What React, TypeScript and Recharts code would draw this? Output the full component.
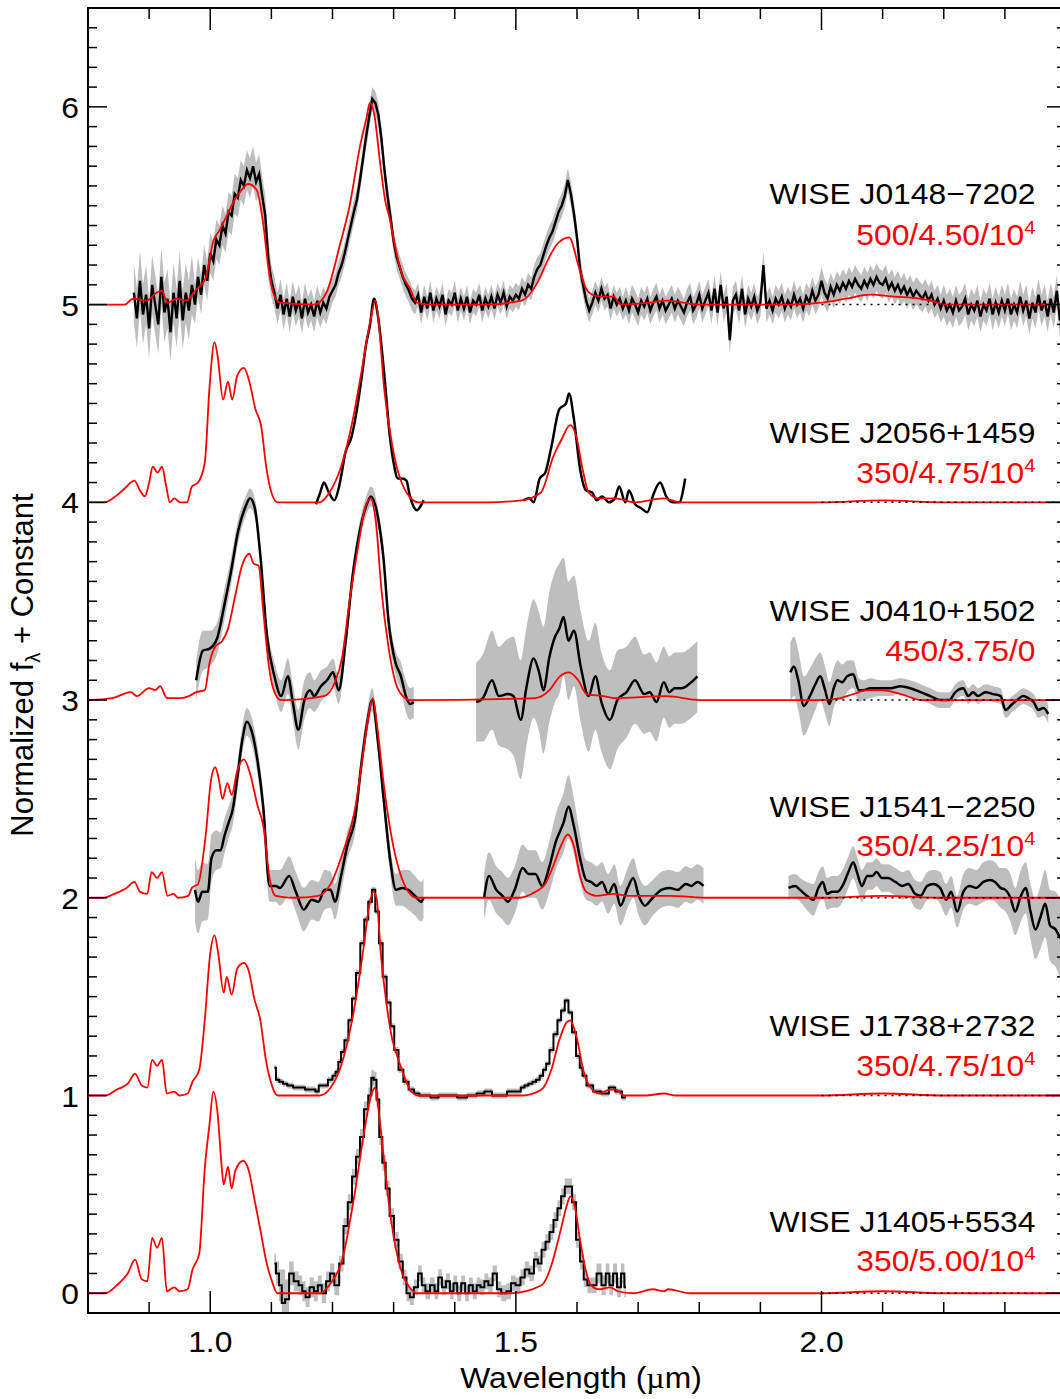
import React from 'react';
import { ComposedChart, Line, Area, Scatter, XAxis, YAxis, ReferenceArea } from 'recharts';

const FONT = '"Liberation Sans", Arial, Helvetica, sans-serif';
const RED = '#ff0000';
const GREY = '#bebebe';

// chart is pinned to the page's top-left corner, plot box in page pixels
const CHART_W = 1070;
const CHART_H = 1399;
const PLOT_LEFT = 88;
const PLOT_TOP = 8;
const PLOT_RIGHT = 1066;
const PLOT_BOTTOM = 1313;

const X_DOMAIN: [number, number] = [0.8, 2.4];
const Y_DOMAIN: [number, number] = [-0.1, 6.5];
const X_TICKS = [0.9, 1.0, 1.1, 1.2, 1.3, 1.4, 1.5, 1.6, 1.7, 1.8, 1.9, 2.0, 2.1, 2.2, 2.3];
const X_LABELS = [1.0, 1.5, 2.0];
const Y_LABELS = [0, 1, 2, 3, 4, 5, 6];
const Y_TICKS = Array.from({ length: 65 }, (_, i) => i / 10);

// object names / model labels (Teff / log g / Kzz)
const NAMES = ['WISE J0148\u22127202', 'WISE J2056+1459', 'WISE J0410+1502', 'WISE J1541\u22122250', 'WISE J1738+2732', 'WISE J1405+5534'];
const MODELS = ['500/4.50/10', '350/4.75/10', '450/3.75/0', '350/4.25/10', '350/4.75/10', '350/5.00/10'];
const MODEL_SUP = ['4', '4', '', '4', '4', '4'];
const NAME_Y = [5.51, 4.3, 3.4, 2.41, 1.3, 0.31];
const MODEL_Y = [5.3, 4.1, 3.2, 2.21, 1.1, 0.11];
const LABEL_X = 2.35;
const BASELINES = [5, 4, 3, 2, 1, 0];
const DOTTED_FROM = 2.0;

// WISE J0148-7202: evenly sampled, 0.875 um in steps of 0.005 um
const J0148_START = 0.875;
const J0148_STEP = 0.005;
const J0148_FLUX = [
  5.06, 4.93, 5.12, 4.95, 5.05, 4.88, 5.10, 5.00, 4.90, 5.14, 4.96, 5.03, 4.86, 5.06, 4.93, 5.12, 4.92, 5.06, 4.97, 5.10,
  5.00, 5.14, 5.05, 5.20, 5.12, 5.26, 5.22, 5.33, 5.30, 5.40, 5.36, 5.47, 5.45, 5.56, 5.54, 5.63, 5.60, 5.68, 5.64, 5.70,
  5.62, 5.66, 5.55, 5.45, 5.23, 5.12, 5.06, 4.98, 5.05, 4.95, 5.03, 4.94, 5.04, 4.97, 5.02, 4.93, 5.03, 4.96, 5.00, 4.94,
  5.02, 4.96, 5.01, 4.98, 5.04, 5.07, 5.10, 5.16, 5.20, 5.26, 5.33, 5.40, 5.47, 5.53, 5.63, 5.74, 5.85, 5.95, 6.04, 6.02,
  5.96, 5.84, 5.68, 5.55, 5.44, 5.32, 5.24, 5.19, 5.14, 5.10, 5.07, 5.03, 5.01, 5.05, 4.96, 5.04, 4.98, 5.06, 4.97, 5.03,
  4.99, 5.05, 4.95, 5.02, 5.00, 5.06, 4.97, 5.03, 4.98, 5.04, 4.96, 5.02, 5.00, 5.05, 4.97, 5.03, 4.99, 5.04, 4.98, 5.05,
  5.01, 5.06, 4.99, 5.04, 5.02, 5.05, 5.03, 5.08, 5.05, 5.10, 5.08, 5.14, 5.18, 5.20, 5.25, 5.30, 5.34, 5.37, 5.42, 5.47,
  5.50, 5.55, 5.63, 5.56, 5.46, 5.34, 5.18, 5.10, 5.02, 4.97, 5.01, 5.06, 5.02, 5.08, 5.03, 5.05, 4.98, 5.04, 5.00, 5.03,
  4.98, 5.02, 4.97, 5.03, 5.00, 4.96, 5.02, 4.99, 5.03, 4.97, 5.01, 5.04, 4.98, 5.02, 4.97, 5.00, 5.03, 4.98, 5.02, 4.99,
  4.96, 5.01, 5.04, 4.97, 5.00, 5.05, 4.98, 5.02, 5.06, 4.97, 5.08, 4.96, 5.10, 4.98, 5.04, 4.82, 5.02, 5.05, 4.97, 5.08,
  4.95, 5.03, 4.99, 5.04, 4.97, 5.01, 5.20, 4.98, 5.02, 4.97, 5.03, 5.00, 5.04, 4.98, 5.02, 4.99, 5.05, 5.00, 5.03, 4.98,
  5.04, 5.01, 5.07, 5.02, 5.05, 5.12, 5.06, 5.03, 5.09, 5.05, 5.10, 5.07, 5.11, 5.08, 5.12, 5.09, 5.13, 5.10, 5.08, 5.12,
  5.09, 5.13, 5.10, 5.14, 5.11, 5.10, 5.13, 5.08, 5.11, 5.07, 5.10, 5.06, 5.09, 5.05, 5.08, 5.04, 5.07, 5.05, 5.03, 5.06,
  5.02, 5.05, 5.00, 5.03, 4.98, 5.02, 4.97, 5.00, 4.96, 5.02, 4.97, 4.99, 5.03, 4.95, 5.00, 4.97, 5.02, 4.94, 5.00, 4.97,
  5.03, 4.95, 5.01, 4.96, 5.02, 4.97, 5.03, 4.95, 5.00, 4.96, 5.04, 4.97, 5.02, 4.93, 5.01, 4.96, 5.05, 4.97, 5.02, 4.94,
  5.03, 4.96, 5.07, 4.92, 5.04, 4.98,
];
// [from wavelength, 1-sigma error]
const J0148_ERR = [[0.875, 0.15], [0.975, 0.1], [1.1, 0.08], [1.2, 0.06], [1.34, 0.06], [1.68, 0.07], [2.2, 0.08]];

const J0148_MODEL = [
  [0.8, 5.0], [0.86, 5.0], [0.874, 5.03], [0.896, 5.02], [0.912, 5.06], [0.921, 5.07], [0.93, 5.01], [0.945, 5.03],
  [0.961, 5.02], [0.975, 5.07], [0.992, 5.13], [1.005, 5.32], [1.016, 5.38], [1.027, 5.45], [1.04, 5.53], [1.049, 5.57],
  [1.062, 5.61], [1.076, 5.58], [1.087, 5.4], [1.095, 5.19], [1.103, 5.06], [1.114, 5.01], [1.17, 5.0], [1.19, 5.06],
  [1.212, 5.3], [1.228, 5.5], [1.245, 5.8], [1.256, 5.95], [1.261, 6.02], [1.269, 5.95], [1.277, 5.74], [1.286, 5.53],
  [1.294, 5.43], [1.302, 5.3], [1.313, 5.16], [1.327, 5.08], [1.338, 5.01], [1.36, 5.0], [1.45, 5.0], [1.509, 5.02],
  [1.535, 5.11], [1.553, 5.23], [1.566, 5.3], [1.587, 5.34], [1.603, 5.19], [1.615, 5.08], [1.625, 5.05], [1.64, 5.04],
  [1.66, 5.04], [1.672, 5.0], [1.72, 5.01], [1.747, 5.02], [1.8, 5.0], [1.95, 5.0], [2.0, 5.01], [2.04, 5.03],
  [2.08, 5.05], [2.12, 5.04], [2.16, 5.03], [2.19, 5.01], [2.2, 5.0], [2.4, 5.0],
];

// WISE J2056+1459
const J2056_J = [
  [1.173, 3.99], [1.18, 4.05], [1.186, 4.1], [1.194, 4.05], [1.203, 4.01], [1.21, 4.07], [1.214, 4.13], [1.221, 4.25],
  [1.231, 4.33], [1.24, 4.47], [1.248, 4.64], [1.255, 4.8], [1.261, 4.89], [1.268, 5.03], [1.274, 4.95], [1.284, 4.67],
  [1.294, 4.33], [1.3, 4.2], [1.307, 4.12], [1.314, 4.12], [1.321, 4.11], [1.326, 4.04], [1.331, 3.99], [1.338, 3.96],
  [1.344, 3.98], [1.349, 4.01],
];
const J2056_H = [
  [1.512, 4.01], [1.522, 4.02], [1.529, 4.0], [1.539, 4.12], [1.548, 4.15], [1.558, 4.28], [1.571, 4.47], [1.582, 4.5],
  [1.587, 4.55], [1.595, 4.42], [1.605, 4.17], [1.615, 4.06], [1.625, 4.05], [1.632, 4.01], [1.641, 4.03], [1.652, 4.0],
  [1.662, 4.02], [1.669, 4.08], [1.679, 4.0], [1.685, 4.06], [1.695, 3.99], [1.705, 3.97], [1.715, 3.95], [1.725, 4.04],
  [1.736, 4.1], [1.746, 4.03], [1.756, 4.0], [1.767, 4.0], [1.777, 4.12],
];
const J2056_MODEL = [
  [0.8, 4.0], [0.827, 4.0], [0.845, 4.03], [0.86, 4.07], [0.876, 4.11], [0.885, 4.06], [0.893, 4.03], [0.9, 4.1],
  [0.906, 4.18], [0.914, 4.15], [0.921, 4.18], [0.928, 4.08], [0.934, 4.0], [0.941, 4.02], [0.951, 4.0], [0.962, 4.0],
  [0.97, 4.08], [0.98, 4.1], [0.991, 4.2], [0.999, 4.59], [1.007, 4.81], [1.012, 4.74], [1.021, 4.52], [1.029, 4.61],
  [1.036, 4.52], [1.044, 4.64], [1.055, 4.68], [1.064, 4.61], [1.074, 4.47], [1.083, 4.39], [1.092, 4.17], [1.1, 4.05],
  [1.11, 4.0], [1.178, 4.0], [1.195, 4.05], [1.214, 4.18], [1.232, 4.4], [1.248, 4.67], [1.262, 4.92], [1.27, 5.02],
  [1.276, 4.9], [1.284, 4.59], [1.3, 4.25], [1.321, 4.05], [1.341, 4.0], [1.454, 4.0], [1.509, 4.01], [1.541, 4.05],
  [1.561, 4.23], [1.575, 4.32], [1.589, 4.39], [1.599, 4.33], [1.609, 4.17], [1.619, 4.05], [1.635, 4.02], [1.662, 4.02],
  [1.695, 4.0], [1.742, 4.02], [1.769, 4.0], [2.0, 4.0], [2.1, 4.01], [2.2, 4.0], [2.4, 4.0],
];

// WISE J0410+1502: [wavelength, flux, error]
const J0410_J = [
  [0.977, 3.1, 0.1], [0.988, 3.25, 0.1], [0.999, 3.26, 0.09], [1.011, 3.31, 0.08], [1.023, 3.48, 0.08], [1.034, 3.65, 0.07],
  [1.046, 3.86, 0.06], [1.058, 3.98, 0.05], [1.065, 4.02, 0.05], [1.073, 3.97, 0.05], [1.082, 3.73, 0.05], [1.093, 3.32, 0.06],
  [1.105, 3.12, 0.07], [1.116, 3.02, 0.08], [1.127, 3.12, 0.09], [1.135, 2.99, 0.09], [1.144, 2.85, 0.1], [1.154, 3.0, 0.1],
  [1.163, 3.05, 0.09], [1.17, 3.02, 0.08], [1.181, 3.07, 0.08], [1.191, 3.1, 0.07], [1.201, 3.14, 0.07], [1.21, 3.05, 0.07],
  [1.222, 3.31, 0.06], [1.233, 3.63, 0.05], [1.245, 3.86, 0.05], [1.255, 3.98, 0.05], [1.263, 4.03, 0.05], [1.274, 3.93, 0.05],
  [1.283, 3.73, 0.05], [1.292, 3.39, 0.06], [1.303, 3.19, 0.06], [1.312, 3.12, 0.07], [1.32, 3.02, 0.08], [1.327, 2.98, 0.08],
  [1.333, 2.99, 0.08],
];
const J0410_H = [
  [1.435, 2.99, 0.2], [1.446, 3.01, 0.22], [1.461, 3.1, 0.25], [1.472, 3.02, 0.25], [1.487, 3.03, 0.28], [1.496, 3.02, 0.3],
  [1.508, 2.9, 0.3], [1.517, 3.06, 0.3], [1.529, 3.21, 0.3], [1.538, 3.14, 0.3], [1.545, 3.05, 0.32], [1.555, 3.22, 0.33],
  [1.564, 3.32, 0.33], [1.571, 3.36, 0.33], [1.578, 3.42, 0.3], [1.586, 3.3, 0.3], [1.595, 3.35, 0.28], [1.606, 3.17, 0.28],
  [1.619, 3.02, 0.28], [1.63, 3.12, 0.27], [1.64, 2.99, 0.25], [1.654, 2.9, 0.25], [1.666, 3.0, 0.25], [1.681, 3.04, 0.23],
  [1.695, 3.1, 0.22], [1.71, 3.03, 0.2], [1.719, 3.04, 0.2], [1.73, 2.99, 0.2], [1.742, 3.09, 0.18], [1.751, 3.04, 0.18],
  [1.76, 3.06, 0.18], [1.771, 3.06, 0.18], [1.783, 3.08, 0.18], [1.797, 3.12, 0.18],
];
const J0410_K = [
  [1.949, 3.14, 0.15], [1.955, 3.17, 0.15], [1.962, 3.1, 0.15], [1.971, 2.97, 0.15], [1.981, 3.02, 0.14], [1.99, 3.08, 0.13],
  [1.998, 3.12, 0.12], [2.005, 3.06, 0.12], [2.013, 2.98, 0.11], [2.02, 3.06, 0.1], [2.026, 3.1, 0.1], [2.034, 3.09, 0.09],
  [2.042, 3.12, 0.08], [2.052, 3.13, 0.07], [2.061, 3.05, 0.06], [2.069, 3.05, 0.05], [2.08, 3.06, 0.05], [2.096, 3.06, 0.04],
  [2.113, 3.06, 0.04], [2.129, 3.07, 0.04], [2.145, 3.06, 0.04], [2.162, 3.04, 0.04], [2.178, 3.02, 0.04], [2.194, 3.0, 0.04],
  [2.209, 3.0, 0.04], [2.219, 3.04, 0.04], [2.232, 3.06, 0.04], [2.24, 3.02, 0.04], [2.248, 3.04, 0.04], [2.256, 3.02, 0.04],
  [2.268, 3.04, 0.04], [2.281, 3.03, 0.04], [2.293, 3.02, 0.04], [2.301, 2.95, 0.04], [2.312, 2.98, 0.04], [2.32, 3.0, 0.04],
  [2.33, 3.02, 0.04], [2.338, 3.01, 0.04], [2.347, 2.99, 0.04], [2.355, 2.95, 0.04], [2.363, 2.96, 0.04], [2.371, 2.93, 0.05],
];
const J0410_MODEL = [
  [0.8, 3.0], [0.84, 3.01], [0.87, 3.04], [0.88, 3.02], [0.9, 3.06], [0.91, 3.05], [0.918, 3.07], [0.929, 3.01],
  [0.952, 3.01], [0.965, 3.02], [0.977, 3.04], [0.991, 3.05], [0.999, 3.19], [1.008, 3.27], [1.02, 3.3], [1.029, 3.36],
  [1.041, 3.53], [1.052, 3.68], [1.064, 3.74], [1.071, 3.69], [1.079, 3.68], [1.087, 3.44], [1.096, 3.17], [1.105, 3.04],
  [1.116, 3.0], [1.186, 3.02], [1.204, 3.09], [1.216, 3.22], [1.227, 3.48], [1.242, 3.78], [1.253, 3.97], [1.262, 4.02],
  [1.271, 3.9], [1.28, 3.56], [1.292, 3.26], [1.303, 3.09], [1.315, 3.02], [1.327, 3.0], [1.532, 3.01], [1.555, 3.05],
  [1.572, 3.12], [1.587, 3.14], [1.602, 3.1], [1.616, 3.03], [1.643, 3.02], [1.66, 3.01], [1.747, 3.02], [1.8, 3.0],
  [2.0, 3.0], [2.031, 3.01], [2.052, 3.03], [2.075, 3.05], [2.096, 3.05], [2.118, 3.04], [2.14, 3.02], [2.162, 3.0], [2.4, 3.0],
];

// WISE J1541-2250: [wavelength, flux, error]
const J1541_J = [
  [0.975, 2.04, 0.16], [0.98, 1.98, 0.16], [0.987, 2.03, 0.15], [0.996, 2.03, 0.14], [1.002, 2.2, 0.12], [1.01, 2.24, 0.1],
  [1.017, 2.24, 0.09], [1.023, 2.31, 0.09], [1.03, 2.38, 0.08], [1.037, 2.45, 0.08], [1.044, 2.6, 0.07], [1.052, 2.79, 0.07],
  [1.06, 2.89, 0.07], [1.068, 2.84, 0.07], [1.077, 2.7, 0.07], [1.087, 2.45, 0.07], [1.097, 2.06, 0.08], [1.107, 2.06, 0.08],
  [1.114, 2.05, 0.09], [1.129, 2.11, 0.1], [1.14, 2.03, 0.1], [1.153, 1.94, 0.11], [1.166, 1.99, 0.1], [1.177, 1.98, 0.1],
  [1.187, 2.04, 0.1], [1.197, 2.04, 0.09], [1.204, 1.98, 0.09], [1.214, 2.11, 0.08], [1.224, 2.26, 0.07], [1.237, 2.4, 0.07],
  [1.247, 2.67, 0.06], [1.257, 2.89, 0.06], [1.265, 3.0, 0.06], [1.274, 2.8, 0.06], [1.284, 2.49, 0.06], [1.294, 2.2, 0.07],
  [1.304, 2.04, 0.08], [1.314, 2.05, 0.09], [1.324, 2.04, 0.1], [1.335, 2.01, 0.1], [1.345, 1.98, 0.1], [1.349, 2.0, 0.1],
];
const J1541_H = [
  [1.448, 2.0, 0.12], [1.456, 2.11, 0.12], [1.468, 2.04, 0.12], [1.478, 2.01, 0.12], [1.487, 1.98, 0.12], [1.498, 2.04, 0.12],
  [1.511, 2.15, 0.12], [1.521, 2.12, 0.12], [1.532, 2.12, 0.12], [1.543, 2.06, 0.12], [1.555, 2.16, 0.13], [1.565, 2.28, 0.14],
  [1.578, 2.38, 0.15], [1.586, 2.46, 0.16], [1.595, 2.36, 0.14], [1.605, 2.2, 0.12], [1.615, 2.09, 0.1], [1.623, 2.08, 0.1],
  [1.632, 2.06, 0.1], [1.641, 2.08, 0.1], [1.651, 2.02, 0.1], [1.661, 2.07, 0.1], [1.671, 1.96, 0.1], [1.683, 2.05, 0.1],
  [1.692, 2.1, 0.1], [1.701, 2.01, 0.1], [1.711, 1.96, 0.1], [1.724, 2.0, 0.09], [1.738, 2.04, 0.09], [1.751, 2.05, 0.09],
  [1.765, 2.04, 0.09], [1.778, 2.07, 0.09], [1.787, 2.06, 0.09], [1.797, 2.08, 0.09], [1.807, 2.06, 0.09],
];
const J1541_K = [
  [1.946, 2.05, 0.06], [1.957, 2.06, 0.06], [1.965, 2.04, 0.06], [1.976, 2.01, 0.07], [1.987, 1.99, 0.08], [1.995, 2.05, 0.08],
  [2.002, 2.08, 0.08], [2.009, 2.02, 0.08], [2.017, 2.03, 0.08], [2.026, 2.03, 0.08], [2.036, 2.07, 0.08], [2.044, 2.13, 0.08],
  [2.052, 2.18, 0.08], [2.058, 2.13, 0.08], [2.066, 2.06, 0.08], [2.075, 2.11, 0.07], [2.083, 2.11, 0.07], [2.09, 2.13, 0.07],
  [2.099, 2.1, 0.07], [2.109, 2.1, 0.07], [2.121, 2.08, 0.07], [2.132, 2.06, 0.07], [2.142, 2.07, 0.07], [2.153, 2.02, 0.07],
  [2.162, 2.01, 0.07], [2.173, 2.06, 0.07], [2.183, 2.07, 0.07], [2.194, 2.05, 0.08], [2.204, 1.99, 0.08], [2.212, 2.03, 0.08],
  [2.222, 1.93, 0.08], [2.232, 2.03, 0.09], [2.242, 2.06, 0.09], [2.253, 2.05, 0.09], [2.265, 2.08, 0.1], [2.276, 2.09, 0.1],
  [2.284, 2.08, 0.1], [2.293, 2.05, 0.1], [2.301, 2.04, 0.11], [2.309, 2.0, 0.12], [2.317, 1.93, 0.12], [2.325, 2.0, 0.13],
  [2.334, 2.05, 0.13], [2.342, 1.93, 0.14], [2.35, 1.84, 0.15], [2.358, 1.9, 0.16], [2.366, 1.97, 0.17], [2.374, 1.86, 0.18],
  [2.383, 1.84, 0.19], [2.39, 1.8, 0.2], [2.4, 1.78, 0.2],
];
const J1541_MODEL = [
  [0.8, 2.0], [0.826, 2.0], [0.843, 2.02], [0.863, 2.05], [0.876, 2.08], [0.885, 2.03], [0.897, 2.02], [0.904, 2.13],
  [0.913, 2.1], [0.921, 2.13], [0.93, 2.01], [0.94, 2.02], [0.947, 2.0], [0.964, 2.01], [0.97, 2.05], [0.98, 2.07],
  [0.993, 2.33], [1.001, 2.59], [1.008, 2.66], [1.014, 2.6], [1.02, 2.5], [1.028, 2.58], [1.035, 2.52], [1.044, 2.64],
  [1.055, 2.7], [1.065, 2.63], [1.077, 2.47], [1.087, 2.36], [1.097, 2.1], [1.107, 2.01], [1.137, 2.0], [1.177, 2.01],
  [1.197, 2.07], [1.217, 2.23], [1.237, 2.45], [1.251, 2.75], [1.261, 2.96], [1.266, 3.01], [1.273, 2.87], [1.284, 2.57],
  [1.297, 2.3], [1.31, 2.13], [1.324, 2.03], [1.337, 2.0], [1.505, 2.0], [1.532, 2.03], [1.548, 2.07], [1.561, 2.16],
  [1.572, 2.25], [1.585, 2.32], [1.595, 2.26], [1.605, 2.11], [1.615, 2.03], [1.632, 2.01], [1.659, 2.02], [1.685, 2.01],
  [1.752, 2.01], [1.818, 2.0], [2.0, 2.0], [2.1, 2.01], [2.2, 2.0], [2.4, 2.0],
];

// WISE J1738+2732
const J1738_SPEC = [
  [1.105, 1.14], [1.11, 1.08], [1.116, 1.07], [1.122, 1.06], [1.13, 1.05], [1.141, 1.04], [1.15, 1.04], [1.16, 1.03],
  [1.168, 1.03], [1.176, 1.02], [1.179, 1.05], [1.188, 1.05], [1.197, 1.08], [1.203, 1.1], [1.207, 1.12], [1.212, 1.17],
  [1.216, 1.22], [1.223, 1.28], [1.229, 1.38], [1.235, 1.49], [1.242, 1.62], [1.249, 1.77], [1.255, 1.89], [1.262, 1.98],
  [1.267, 2.04], [1.273, 1.93], [1.279, 1.77], [1.285, 1.6], [1.292, 1.47], [1.298, 1.35], [1.304, 1.23], [1.312, 1.13],
  [1.32, 1.07], [1.329, 1.03], [1.338, 1.01], [1.346, 1.0], [1.354, 1.0], [1.367, 0.99], [1.38, 1.0], [1.398, 1.0],
  [1.41, 0.99], [1.43, 1.0], [1.442, 1.01], [1.455, 1.02], [1.467, 1.0], [1.479, 1.0], [1.492, 1.02], [1.505, 1.02],
  [1.511, 1.04], [1.517, 1.05], [1.524, 1.06], [1.53, 1.07], [1.536, 1.08], [1.542, 1.1], [1.547, 1.13], [1.552, 1.16],
  [1.558, 1.23], [1.565, 1.31], [1.571, 1.38], [1.577, 1.43], [1.583, 1.48], [1.589, 1.42], [1.595, 1.32], [1.602, 1.2],
  [1.607, 1.14], [1.611, 1.1], [1.62, 1.05], [1.633, 1.02], [1.646, 1.01], [1.658, 1.04], [1.667, 1.02], [1.68, 0.99],
];
const J1738_MODEL = [
  [0.8, 1.0], [0.828, 1.0], [0.847, 1.03], [0.865, 1.06], [0.877, 1.11], [0.888, 1.05], [0.897, 1.04], [0.905, 1.18],
  [0.913, 1.15], [0.921, 1.18], [0.929, 1.01], [0.941, 1.02], [0.95, 1.0], [0.963, 1.01], [0.971, 1.07], [0.982, 1.13],
  [0.991, 1.38], [1.0, 1.72], [1.007, 1.81], [1.013, 1.72], [1.022, 1.52], [1.027, 1.6], [1.035, 1.51], [1.044, 1.64],
  [1.055, 1.67], [1.063, 1.63], [1.072, 1.49], [1.082, 1.38], [1.091, 1.18], [1.101, 1.05], [1.11, 1.0], [1.179, 1.0],
  [1.197, 1.04], [1.216, 1.17], [1.235, 1.43], [1.251, 1.75], [1.26, 1.96], [1.267, 2.03], [1.272, 2.0], [1.279, 1.72],
  [1.289, 1.45], [1.298, 1.28], [1.308, 1.18], [1.317, 1.1], [1.329, 1.02], [1.342, 1.0], [1.511, 1.0], [1.542, 1.03],
  [1.558, 1.13], [1.571, 1.28], [1.583, 1.37], [1.589, 1.38], [1.599, 1.3], [1.611, 1.12], [1.62, 1.05], [1.636, 1.01],
  [1.654, 1.03], [1.664, 1.03], [1.677, 1.0], [1.711, 1.0], [1.743, 1.01], [1.762, 1.0], [2.0, 1.0], [2.1, 1.01],
  [2.2, 1.0], [2.4, 1.0],
];

// WISE J1405+5534: [wavelength, flux, error]
const J1405_SPEC = [
  [1.105, 0.15, 0.05], [1.11, 0.1, 0.06], [1.115, 0.04, 0.08], [1.119, -0.05, 0.17], [1.126, -0.03, 0.1], [1.132, 0.1, 0.06],
  [1.141, 0.06, 0.05], [1.148, 0.04, 0.05], [1.153, 0.01, 0.05], [1.159, -0.02, 0.05], [1.166, 0.03, 0.05], [1.173, 0.01, 0.05],
  [1.179, 0.04, 0.05], [1.186, 0.0, 0.05], [1.193, 0.06, 0.05], [1.199, 0.1, 0.05], [1.207, 0.04, 0.05], [1.215, 0.15, 0.04],
  [1.221, 0.34, 0.04], [1.229, 0.46, 0.04], [1.235, 0.59, 0.04], [1.242, 0.69, 0.04], [1.248, 0.79, 0.04], [1.255, 0.93, 0.04],
  [1.262, 1.0, 0.04], [1.265, 1.09, 0.04], [1.27, 1.08, 0.04], [1.274, 0.98, 0.04], [1.279, 0.79, 0.04], [1.284, 0.66, 0.04],
  [1.29, 0.53, 0.04], [1.297, 0.39, 0.04], [1.304, 0.27, 0.04], [1.312, 0.16, 0.04], [1.318, 0.08, 0.04], [1.324, 0.0, 0.04],
  [1.329, -0.02, 0.04], [1.337, 0.03, 0.04], [1.343, 0.1, 0.04], [1.349, 0.04, 0.04], [1.355, 0.01, 0.04], [1.364, 0.04, 0.04],
  [1.37, 0.01, 0.04], [1.376, 0.08, 0.04], [1.382, 0.03, 0.04], [1.389, 0.06, 0.04], [1.395, 0.01, 0.04], [1.401, 0.05, 0.04],
  [1.407, 0.0, 0.04], [1.414, 0.05, 0.04], [1.42, 0.0, 0.04], [1.426, 0.04, 0.04], [1.433, 0.01, 0.04], [1.439, 0.04, 0.04],
  [1.445, 0.03, 0.04], [1.452, 0.06, 0.04], [1.458, 0.04, 0.04], [1.466, 0.1, 0.04], [1.472, 0.02, 0.04], [1.48, 0.0, 0.04],
  [1.489, 0.01, 0.04], [1.495, 0.05, 0.04], [1.504, 0.04, 0.04], [1.511, 0.08, 0.04], [1.518, 0.12, 0.04], [1.526, 0.1, 0.04],
  [1.533, 0.17, 0.04], [1.539, 0.15, 0.04], [1.545, 0.22, 0.04], [1.552, 0.26, 0.04], [1.558, 0.31, 0.04], [1.565, 0.37, 0.04],
  [1.571, 0.43, 0.04], [1.577, 0.49, 0.04], [1.583, 0.54, 0.04], [1.589, 0.54, 0.04], [1.595, 0.46, 0.04], [1.602, 0.27, 0.04],
  [1.608, 0.16, 0.04], [1.614, 0.07, 0.04], [1.62, 0.04, 0.04], [1.628, 0.04, 0.04], [1.636, 0.1, 0.05], [1.644, 0.04, 0.05],
  [1.65, 0.1, 0.05], [1.656, 0.04, 0.05], [1.662, 0.1, 0.05], [1.669, 0.03, 0.05], [1.675, 0.1, 0.05], [1.68, 0.03, 0.05],
];
const J1405_MODEL = [
  [0.8, 0.0], [0.828, 0.0], [0.847, 0.04], [0.865, 0.1], [0.877, 0.17], [0.888, 0.07], [0.897, 0.06], [0.905, 0.28],
  [0.913, 0.23], [0.921, 0.28], [0.929, 0.01], [0.941, 0.03], [0.95, 0.01], [0.963, 0.02], [0.971, 0.12], [0.982, 0.2],
  [0.991, 0.63], [0.999, 0.86], [1.005, 1.02], [1.012, 0.91], [1.019, 0.63], [1.022, 0.55], [1.029, 0.64], [1.035, 0.53],
  [1.041, 0.62], [1.054, 0.67], [1.063, 0.62], [1.072, 0.48], [1.082, 0.32], [1.091, 0.17], [1.101, 0.06], [1.11, 0.0],
  [1.179, 0.0], [1.197, 0.05], [1.216, 0.17], [1.235, 0.48], [1.251, 0.8], [1.263, 1.0], [1.27, 1.04], [1.274, 0.96],
  [1.283, 0.71], [1.292, 0.46], [1.301, 0.27], [1.314, 0.1], [1.326, 0.03], [1.338, 0.0], [1.492, 0.0], [1.542, 0.04],
  [1.558, 0.14], [1.571, 0.29], [1.583, 0.44], [1.589, 0.49], [1.597, 0.43], [1.605, 0.27], [1.614, 0.12], [1.623, 0.04],
  [1.636, 0.02], [1.654, 0.03], [1.667, 0.01], [1.693, 0.0], [1.724, 0.02], [1.743, 0.01], [1.749, 0.02], [1.785, 0.0],
  [2.0, 0.0], [2.1, 0.01], [2.2, 0.0], [2.4, 0.0],
];

type Pt = { x: number; y: number; band?: [number, number] };

const pts = (rows: number[][]): Pt[] => rows.map(([x, y]) => ({ x, y }));
const withBand = (rows: number[][], fallbackErr = 0.02): Pt[] =>
  rows.map(([x, y, e]) => {
    const err = e ?? fallbackErr;
    return { x, y, band: [y - err, y + err] };
  });

const j0148Err = (x: number) => {
  let e = J0148_ERR[0][1];
  for (const [from, v] of J0148_ERR) if (x >= from) e = v;
  return e;
};
const J0148_DATA: Pt[] = J0148_FLUX.map((y, i) => {
  const x = +(J0148_START + i * J0148_STEP).toFixed(3);
  const e = j0148Err(x);
  return { x, y, band: [y - e, y + e] };
});

const LABELS = NAMES.flatMap((name, i) => [
  { x: LABEL_X, y: NAME_Y[i], text: name, sup: '', color: '#000' },
  { x: LABEL_X, y: MODEL_Y[i], text: MODELS[i], sup: MODEL_SUP[i], color: RED },
]);

const Txt = ({ x, y, anchor = 'start', size = 30, fill = '#000', children }: any) => (
  <text
    transform={`translate(${x},${y}) scale(1.06,1)`}
    textAnchor={anchor}
    fontSize={size}
    fontFamily={FONT}
    fill={fill}
  >
    {children}
  </text>
);

const XTick = (props: any) => {
  const { x, payload } = props;
  const v = payload.value;
  const major = X_LABELS.some((l) => Math.abs(l - v) < 1e-6);
  const len = major ? 22 : 11;
  return (
    <g>
      <line x1={x} y1={PLOT_BOTTOM} x2={x} y2={PLOT_BOTTOM - len} stroke="#000" strokeWidth={1.5} />
      <line x1={x} y1={PLOT_TOP} x2={x} y2={PLOT_TOP + len} stroke="#000" strokeWidth={1.5} />
      {major && (
        <Txt x={x} y={PLOT_BOTTOM + 39} anchor="middle">
          {v.toFixed(1)}
        </Txt>
      )}
    </g>
  );
};

const YTick = (props: any) => {
  const { y, payload } = props;
  const v = payload.value;
  const major = Y_LABELS.some((l) => Math.abs(l - v) < 1e-6);
  const len = major ? 19 : 9;
  return (
    <g>
      <line x1={PLOT_LEFT} y1={y} x2={PLOT_LEFT + len} y2={y} stroke="#000" strokeWidth={1.5} />
      <line x1={PLOT_RIGHT} y1={y} x2={PLOT_RIGHT - len} y2={y} stroke="#000" strokeWidth={1.5} />
      {major && (
        <Txt x={PLOT_LEFT - 9} y={y + 11} anchor="end">
          {String(Math.round(v))}
        </Txt>
      )}
    </g>
  );
};

const LabelShape = (props: any) => {
  const { cx, cy, payload } = props;
  return (
    <Txt x={cx} y={cy} anchor="end" fill={payload.color}>
      {payload.text}
      {payload.sup ? (
        <tspan dy={-11} fontSize={19}>
          {payload.sup}
        </tspan>
      ) : null}
    </Txt>
  );
};

const bandProps = { type: 'monotone' as const, dataKey: 'band', stroke: 'none', fill: GREY, fillOpacity: 1, isAnimationActive: false, dot: false, activeDot: false };
const blackProps = { dataKey: 'y', stroke: '#000', dot: false, activeDot: false, isAnimationActive: false };
const redProps = { type: 'monotone' as const, dataKey: 'y', stroke: RED, strokeWidth: 1.8, dot: false, activeDot: false, isAnimationActive: false };

const App: React.FC = () => {
  const j0410 = [withBand(J0410_J), withBand(J0410_H), withBand(J0410_K)];
  const j1541 = [withBand(J1541_J), withBand(J1541_H), withBand(J1541_K)];
  const j1405 = withBand(J1405_SPEC);
  const j1738 = withBand(J1738_SPEC, 0.015);
  const dotted = BASELINES.map((b) => [
    { x: DOTTED_FROM, y: b },
    { x: X_DOMAIN[1], y: b },
  ]);

  return (
    <div style={{ position: 'absolute', left: 0, top: 0, width: 1060, height: CHART_H, overflow: 'hidden', background: '#fff' }}>
      <ComposedChart width={CHART_W} height={CHART_H} margin={{ top: PLOT_TOP, right: CHART_W - PLOT_RIGHT, bottom: 0, left: 0 }}>
        <XAxis
          type="number"
          dataKey="x"
          domain={X_DOMAIN}
          allowDataOverflow
          ticks={X_TICKS}
          interval={0}
          tick={XTick}
          tickSize={0}
          tickMargin={0}
          tickLine={false}
          axisLine={false}
          height={CHART_H - PLOT_BOTTOM}
        />
        <YAxis
          type="number"
          dataKey="y"
          domain={Y_DOMAIN}
          allowDataOverflow
          ticks={Y_TICKS}
          interval={0}
          tick={YTick}
          tickSize={0}
          tickMargin={0}
          tickLine={false}
          axisLine={false}
          width={PLOT_LEFT}
        />

        {/* grey error envelopes */}
        <Area {...bandProps} data={J0148_DATA} type="linear" />
        <Area {...bandProps} data={j0410[0]} />
        <Area {...bandProps} data={j0410[1]} />
        <Area {...bandProps} data={j0410[2]} />
        <Area {...bandProps} data={j1541[0]} />
        <Area {...bandProps} data={j1541[1]} />
        <Area {...bandProps} data={j1541[2]} />
        <Area {...bandProps} data={j1738} type="step" />
        <Area {...bandProps} data={j1405} type="step" />

        {/* observed spectra */}
        <Line {...blackProps} data={J0148_DATA} type="linear" strokeWidth={2.4} />
        <Line {...blackProps} data={pts(J2056_J)} type="monotone" strokeWidth={2.5} />
        <Line {...blackProps} data={pts(J2056_H)} type="monotone" strokeWidth={2.5} />
        <Line {...blackProps} data={j0410[0]} type="monotone" strokeWidth={2.5} />
        <Line {...blackProps} data={j0410[1]} type="monotone" strokeWidth={2.5} />
        <Line {...blackProps} data={j0410[2]} type="monotone" strokeWidth={2.5} />
        <Line {...blackProps} data={j1541[0]} type="monotone" strokeWidth={2.5} />
        <Line {...blackProps} data={j1541[1]} type="monotone" strokeWidth={2.5} />
        <Line {...blackProps} data={j1541[2]} type="monotone" strokeWidth={2.5} />
        <Line {...blackProps} data={j1738} type="step" strokeWidth={2} />
        <Line {...blackProps} data={j1405} type="step" strokeWidth={2} />

        {/* model spectra */}
        <Line {...redProps} data={pts(J0148_MODEL)} />
        <Line {...redProps} data={pts(J2056_MODEL)} />
        <Line {...redProps} data={pts(J0410_MODEL)} />
        <Line {...redProps} data={pts(J1541_MODEL)} />
        <Line {...redProps} data={pts(J1738_MODEL)} />
        <Line {...redProps} data={pts(J1405_MODEL)} />

        {dotted.map((d, i) => (
          <Line key={i} data={d} dataKey="y" type="linear" stroke="#000" strokeWidth={1.5} strokeDasharray="2 5" dot={false} activeDot={false} isAnimationActive={false} />
        ))}

        <ReferenceArea x1={X_DOMAIN[0]} x2={X_DOMAIN[1]} y1={Y_DOMAIN[0]} y2={Y_DOMAIN[1]} fill="none" stroke="#000" strokeWidth={2} fillOpacity={0} />

        <Scatter data={LABELS} dataKey="y" shape={LabelShape} isAnimationActive={false} />
      </ComposedChart>

      <svg width={1060} height={CHART_H} style={{ position: 'absolute', left: 0, top: 0, pointerEvents: 'none' }}>
        <Txt x={581} y={1388} anchor="middle">
          Wavelength (<tspan fontFamily="Liberation Serif, serif">{'\u00b5'}</tspan>m)
        </Txt>
        <text transform="translate(33,665) rotate(-90)" textAnchor="middle" fontSize={31} fontFamily={FONT} fill="#000">
          Normalized f<tspan dy={7} fontSize={20}>{'\u03bb'}</tspan>
          <tspan dy={-7}> + Constant</tspan>
        </text>
      </svg>
    </div>
  );
};

export default App;
